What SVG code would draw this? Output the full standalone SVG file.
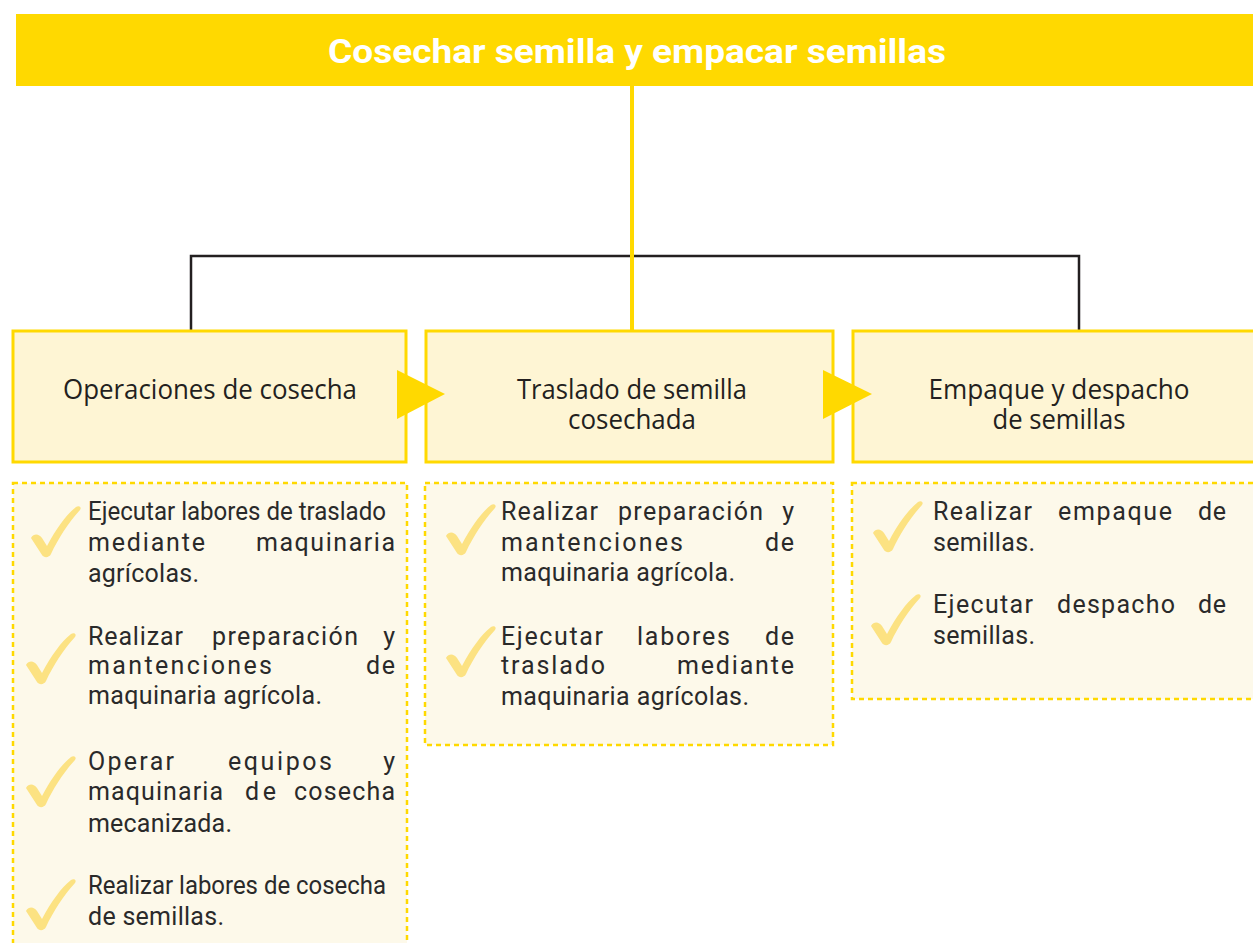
<svg xmlns="http://www.w3.org/2000/svg" width="1253" height="943" viewBox="0 0 1253 943">
<style>
.node{fill:#FEF5D4;stroke:#FFD900;stroke-width:3}
.list{fill:#FDF9EA;stroke:#FFD900;stroke-width:2.5;stroke-dasharray:5 4}
.nt{font-family:"Open Sans","Noto Sans",sans-serif;font-size:27px;fill:#231F20;text-anchor:middle}
.lt{font-family:Roboto,"Liberation Sans",sans-serif;font-size:25px;fill:#2A2A2A}
.arrow{fill:#FFD900}
.chk{fill:#FCE282}
</style>
<defs>
<path id="check" d="M1,33 C4,28 9,29 12,33 L17,41 C26,24 36,10 46,2 C49,0 52,2 50,5 C38,18 28,34 21,49 C19,53 14,53 12,50 Z"/>
</defs>
<rect x="0" y="0" width="1253" height="943" fill="#FFFFFF"/>
<g id="title">
<rect x="16" y="14" width="1237" height="72" fill="#FFD900"/>
<text x="637" y="63" text-anchor="middle" font-family="Roboto,'Liberation Sans',sans-serif" font-weight="bold" font-size="34" fill="#FFFFFF" textLength="618" lengthAdjust="spacingAndGlyphs">Cosechar semilla y empacar semillas</text>
</g>
<g id="connectors">
<path d="M191,331 V256 H1079 V331" fill="none" stroke="#231F20" stroke-width="2.5"/>
<line x1="632" y1="86" x2="632" y2="331" stroke="#FFD900" stroke-width="4"/>
</g>
<g id="node-operaciones">
<rect class="node" x="13" y="331" width="393" height="131"/>
<text class="nt" x="210" y="399" textLength="294" lengthAdjust="spacingAndGlyphs">Operaciones de cosecha</text>
</g>
<g id="node-traslado">
<rect class="node" x="426" y="331" width="407" height="131"/>
<text class="nt"><tspan x="632" y="399" textLength="230" lengthAdjust="spacingAndGlyphs">Traslado de semilla</tspan><tspan x="632" y="429" textLength="128" lengthAdjust="spacingAndGlyphs">cosechada</tspan></text>
</g>
<g id="node-empaque">
<rect class="node" x="853" y="331" width="420" height="131"/>
<text class="nt"><tspan x="1059" y="399" textLength="261" lengthAdjust="spacingAndGlyphs">Empaque y despacho</tspan><tspan x="1059" y="429" textLength="133" lengthAdjust="spacingAndGlyphs">de semillas</tspan></text>
</g>
<g id="arrows">
<polygon class="arrow" points="397,370 445,394 397,419"/>
<polygon class="arrow" points="823,370 872,394 823,419"/>
</g>
<g id="list-operaciones">
<rect class="list" x="13" y="483" width="394" height="480"/>
<use href="#check" class="chk" x="30" y="505"/>
<use href="#check" class="chk" x="25" y="632"/>
<use href="#check" class="chk" x="25" y="755"/>
<use href="#check" class="chk" x="25" y="878"/>
<text class="lt" x="88" y="520" textLength="298" lengthAdjust="spacingAndGlyphs">Ejecutar labores de traslado</text>
<text class="lt" x="88" y="551" textLength="117" lengthAdjust="spacing">mediante</text>
<text class="lt" x="256" y="551" textLength="139" lengthAdjust="spacing">maquinaria</text>
<text class="lt" x="88" y="582" textLength="111" lengthAdjust="spacing">agrícolas.</text>
<text class="lt" x="88" y="645" textLength="95" lengthAdjust="spacing">Realizar</text>
<text class="lt" x="212" y="645" textLength="146" lengthAdjust="spacing">preparación</text>
<text class="lt" x="395" y="645" text-anchor="end">y</text>
<text class="lt" x="88" y="674" textLength="184" lengthAdjust="spacing">mantenciones</text>
<text class="lt" x="366" y="674" textLength="29" lengthAdjust="spacing">de</text>
<text class="lt" x="88" y="704" textLength="234" lengthAdjust="spacing">maquinaria agrícola.</text>
<text class="lt" x="88" y="770" textLength="86" lengthAdjust="spacing">Operar</text>
<text class="lt" x="228" y="770" textLength="104" lengthAdjust="spacing">equipos</text>
<text class="lt" x="395" y="770" text-anchor="end">y</text>
<text class="lt" x="88" y="800" textLength="135" lengthAdjust="spacing">maquinaria</text>
<text class="lt" x="245" y="800" textLength="31" lengthAdjust="spacing">de</text>
<text class="lt" x="294" y="800" textLength="101" lengthAdjust="spacing">cosecha</text>
<text class="lt" x="88" y="832" textLength="144" lengthAdjust="spacing">mecanizada.</text>
<text class="lt" x="88" y="894" textLength="298" lengthAdjust="spacingAndGlyphs">Realizar labores de cosecha</text>
<text class="lt" x="88" y="925" textLength="136" lengthAdjust="spacing">de semillas.</text>
</g>
<g id="list-traslado">
<rect class="list" x="425" y="483" width="408" height="262"/>
<use href="#check" class="chk" x="445" y="503"/>
<use href="#check" class="chk" x="445" y="625"/>
<text class="lt" x="501" y="520" textLength="97" lengthAdjust="spacing">Realizar</text>
<text class="lt" x="618" y="520" textLength="145" lengthAdjust="spacing">preparación</text>
<text class="lt" x="794" y="520" text-anchor="end">y</text>
<text class="lt" x="501" y="551" textLength="182" lengthAdjust="spacing">mantenciones</text>
<text class="lt" x="765" y="551" textLength="29" lengthAdjust="spacing">de</text>
<text class="lt" x="501" y="581" textLength="234" lengthAdjust="spacing">maquinaria agrícola.</text>
<text class="lt" x="501" y="645" textLength="102" lengthAdjust="spacing">Ejecutar</text>
<text class="lt" x="637" y="645" textLength="93" lengthAdjust="spacing">labores</text>
<text class="lt" x="765" y="645" textLength="29" lengthAdjust="spacing">de</text>
<text class="lt" x="501" y="674" textLength="104" lengthAdjust="spacing">traslado</text>
<text class="lt" x="677" y="674" textLength="117" lengthAdjust="spacing">mediante</text>
<text class="lt" x="501" y="705" textLength="248" lengthAdjust="spacing">maquinaria agrícolas.</text>
</g>
<g id="list-empaque">
<rect class="list" x="852" y="483" width="420" height="216"/>
<use href="#check" class="chk" x="872" y="500"/>
<use href="#check" class="chk" x="870" y="593"/>
<text class="lt" x="933" y="520" textLength="99" lengthAdjust="spacing">Realizar</text>
<text class="lt" x="1058" y="520" textLength="114" lengthAdjust="spacing">empaque</text>
<text class="lt" x="1198" y="520" textLength="28" lengthAdjust="spacing">de</text>
<text class="lt" x="933" y="551" textLength="102" lengthAdjust="spacing">semillas.</text>
<text class="lt" x="933" y="613" textLength="100" lengthAdjust="spacing">Ejecutar</text>
<text class="lt" x="1057" y="613" textLength="118" lengthAdjust="spacing">despacho</text>
<text class="lt" x="1198" y="613" textLength="28" lengthAdjust="spacing">de</text>
<text class="lt" x="933" y="644" textLength="102" lengthAdjust="spacing">semillas.</text>
</g>
</svg>
